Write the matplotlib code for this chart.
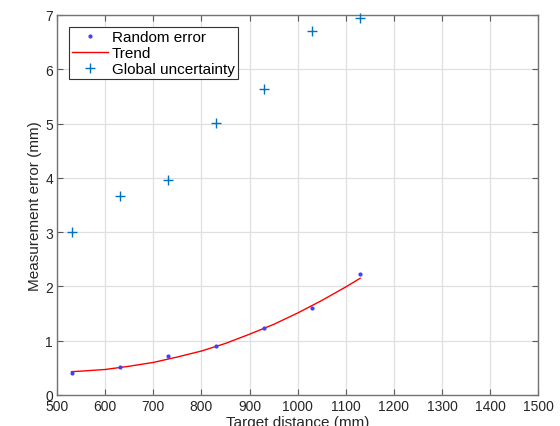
import numpy as np
import matplotlib
matplotlib.use("Agg")
import matplotlib.pyplot as plt

# target distances (mm)
distance = [530, 630, 730, 830, 930, 1030, 1130]
# random error (mm)
random_error = [0.41, 0.51, 0.72, 0.90, 1.23, 1.61, 2.22]
# global uncertainty (mm)
global_unc = [3.01, 3.67, 3.96, 5.01, 5.64, 6.70, 6.94]
# trend curve
trend_x = [530, 550, 600, 650, 700, 750, 800, 850, 900, 950, 1000, 1050, 1100, 1130]
trend_y = [0.43, 0.44, 0.47, 0.53, 0.60, 0.70, 0.81, 0.95, 1.12, 1.30, 1.51, 1.74, 1.99, 2.15]

xticks = list(range(500, 1501, 100))
yticks = list(range(0, 8))

plt.rcParams["font.family"] = ["Liberation Sans", "DejaVu Sans"]

fig = plt.figure(figsize=(5.6, 4.27), dpi=100)
ax = fig.add_axes([0.102, 0.0726, 0.859, 0.89])

ax.plot(distance, random_error, ".", color=(0.25, 0.25, 1.0), markersize=4,
        label="Random error", zorder=3)
ax.plot(trend_x, trend_y, "-", color="red", linewidth=1.0, label="Trend", zorder=2)
ax.plot(distance, global_unc, "+", color=(0.0, 0.447, 0.741), markersize=7,
        markeredgewidth=1.0, label="Global uncertainty", zorder=3, clip_on=False)

ax.set_xlim(500, 1500)
ax.set_ylim(0, 7)
ax.set_xticks(xticks)
ax.set_yticks(yticks)
ax.tick_params(direction="in", top=True, right=True, labelsize=10,
               labelcolor=(0.15, 0.15, 0.15),
               length=4, width=0.8, color=(0.35, 0.35, 0.35), pad=3)
ax.grid(True, color=(0.88, 0.88, 0.88), linewidth=0.9)
ax.set_axisbelow(True)
for s in ax.spines.values():
    s.set_color((0.45, 0.45, 0.45))
    s.set_linewidth(1.0)

ax.set_xlabel("Target distance (mm)", fontsize=11, labelpad=1, color=(0.15, 0.15, 0.15))
ax.set_ylabel("Measurement error (mm)", fontsize=11, labelpad=2, color=(0.15, 0.15, 0.15))

leg = ax.legend(loc="upper left", fontsize=11, fancybox=False, framealpha=1,
                edgecolor=(0.2, 0.2, 0.2), borderpad=0.2, labelspacing=0.12,
                handlelength=2.3, handletextpad=0.3, borderaxespad=0.8)
leg.get_frame().set_linewidth(0.8)

fig.savefig("out.png", dpi=100)
